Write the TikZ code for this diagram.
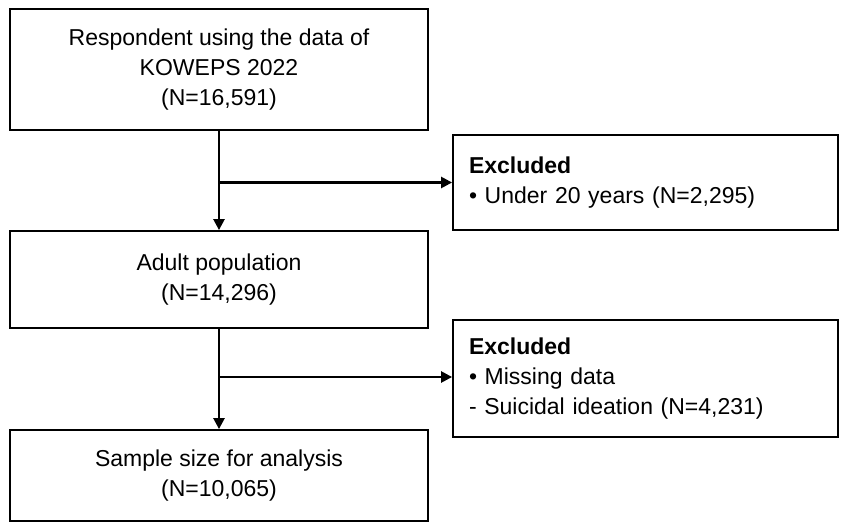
\documentclass[tikz,border=0pt]{standalone}
\usepackage{fontspec}
\setmainfont{Liberation Sans}
\usetikzlibrary{positioning,arrows.meta}

\begin{document}
\begin{tikzpicture}[
		x=1pt,y=-1pt,
		>={Triangle[length=11pt,width=11pt]},
		every node/.append style={
			draw=black,
			line width=1.8pt,
			font=\fontsize{23}{30}\selectfont,
		},
		stage/.style={minimum width=418pt,align=center},
		excl/.style={minimum width=385pt,text width=353pt,align=left,inner sep=0pt},
		flow/.style={line width=2.4pt},
	]
	\useasboundingbox (0,0) rectangle (841,524);
	% left side of the picture
	\node[stage,minimum height=121pt] (resp) at (219,69.5) {Respondent using the data of\\KOWEPS 2022\\(N=16,591)};
	\node[stage,minimum height=97pt] (adult) [below=99.2pt of resp] {Adult population\\(N=14,296)};
	\node[stage,minimum height=91pt] (sample) [below=100.2pt of adult] {Sample size for analysis\\(N=10,065)};
	% right side of the picture
	\node[excl,minimum height=95pt] (excl1) at (645.5,182.5) {\textbf{Excluded}\\\textbullet{} Under 20 years (N=2,295)};
	\node[excl,minimum height=117pt] (excl2) at (645.5,378.5) {\textbf{Excluded}\\\textbullet{} Missing data\\- Suicidal ideation (N=4,231)};
	% draw the connection lines
	\draw[flow,->] (resp) -- (adult);
	\draw[flow,->] (resp.south |- excl1.west) -- (excl1.west);
	\draw[flow,->] (adult) -- (sample);
	\draw[flow,->] (adult.south |- 0,377) -- (excl2.west |- 0,377);
\end{tikzpicture}
\end{document}
